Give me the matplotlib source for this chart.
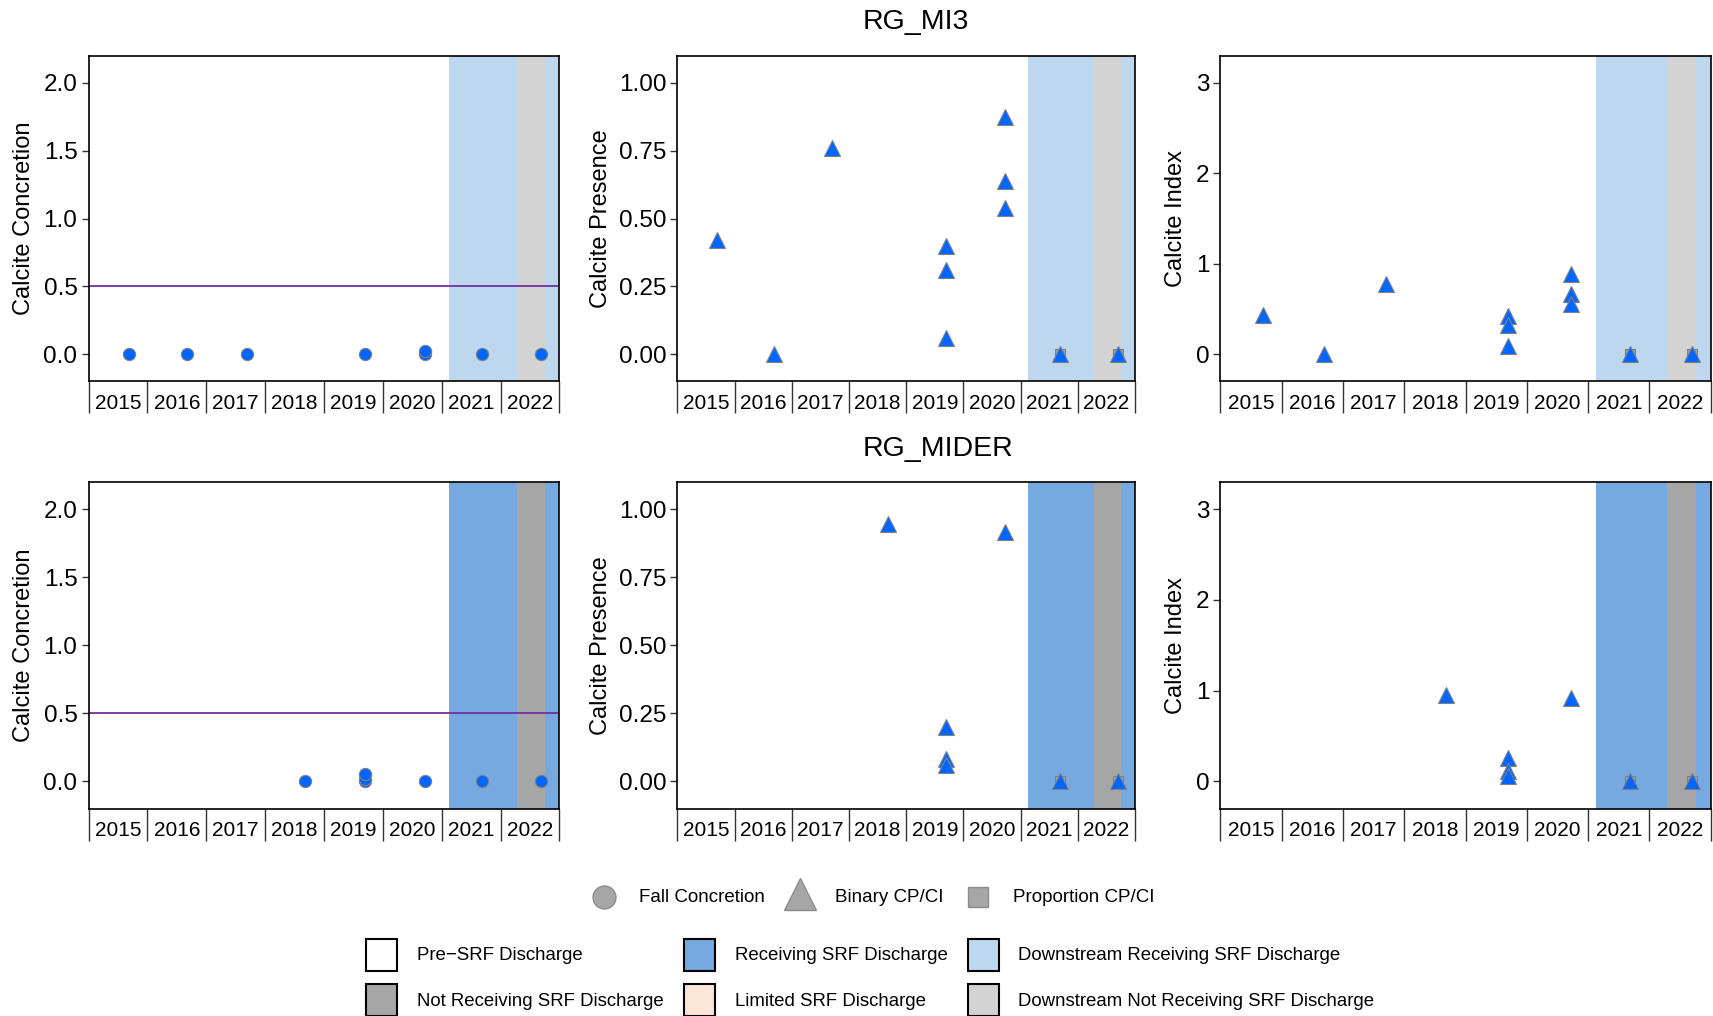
import matplotlib
matplotlib.use("Agg")
import matplotlib.pyplot as plt
from matplotlib.patches import Rectangle

plt.rcParams['font.family'] = ['Liberation Sans', 'DejaVu Sans']

W, H = 1713, 1016

# ---- data (decimal years) ----
sites = ["RG_MI3", "RG_MIDER"]
year_edges = list(range(2015, 2024))
year_labels = [str(y) for y in range(2015, 2023)]

# discharge periods
ds_start = 2021.13
ds_gap = (2022.28, 2022.76)
x_end = 2023.0

# RG_MI3
mi3_fc_x = [2015.69, 2016.68, 2017.70, 2019.69, 2020.71, 2020.71, 2021.69, 2022.69]
mi3_fc_y = [0.0, 0.0, 0.0, 0.0, 0.0, 0.02, 0.0, 0.0]
mi3_cp_x = [2015.70, 2016.69, 2017.70, 2019.69, 2019.69, 2019.69,
            2020.72, 2020.72, 2020.72, 2021.69, 2022.70]
mi3_cp_y = [0.42, 0.0, 0.76, 0.40, 0.31, 0.06, 0.875, 0.64, 0.54, 0.0, 0.0]
mi3_ci_y = [0.43, 0.0, 0.78, 0.42, 0.32, 0.085, 0.89, 0.67, 0.55, 0.0, 0.0]
mi3_prop_x = [2021.69, 2022.70]
mi3_prop_y = [0.0, 0.0]

# RG_MIDER
mider_fc_x = [2018.68, 2019.69, 2019.69, 2019.69, 2020.71, 2021.69, 2022.69]
mider_fc_y = [0.0, 0.0, 0.02, 0.05, 0.0, 0.0, 0.0]
mider_cp_x = [2018.68, 2019.70, 2019.70, 2019.70, 2020.72, 2021.69, 2022.70]
mider_cp_y = [0.945, 0.198, 0.08, 0.058, 0.914, 0.0, 0.0]
mider_ci_y = [0.95, 0.258, 0.11, 0.063, 0.92, 0.0, 0.0]
mider_prop_x = [2021.69, 2022.70]
mider_prop_y = [0.0, 0.0]

fc_data = [(mi3_fc_x, mi3_fc_y), (mider_fc_x, mider_fc_y)]
cp_data = [(mi3_cp_x, mi3_cp_y), (mider_cp_x, mider_cp_y)]
ci_data = [(mi3_cp_x, mi3_ci_y), (mider_cp_x, mider_ci_y)]
prop_data = [(mi3_prop_x, mi3_prop_y), (mider_prop_x, mider_prop_y)]

# band colours per site (downstream vs receiving)
band_cols = [("#BDD7EE", "#D3D3D3"), ("#77A9E1", "#A6A6A6")]

ylabels = ["Calcite Concretion", "Calcite Presence", "Calcite Index"]
ylims = [(-0.2, 2.2), (-0.1, 1.1), (-0.3, 3.3)]
yticks = [[0, 0.5, 1.0, 1.5, 2.0], [0, 0.25, 0.5, 0.75, 1.0], [0, 1, 2, 3]]
yfmt = ["%.1f", "%.2f", "%d"]

box_labels = ["Pre\u2212SRF Discharge", "Receiving SRF Discharge",
              "Downstream Receiving SRF Discharge",
              "Not Receiving SRF Discharge", "Limited SRF Discharge",
              "Downstream Not Receiving SRF Discharge"]
box_colors = ["white", "#77A9E1", "#BDD7EE", "#A6A6A6", "#FBE5D6", "#D3D3D3"]
mk_labels = ["Fall Concretion", "Binary CP/CI", "Proportion CP/CI"]
mk_shapes = ["o", "^", "s"]

# ---- layout in pixels ----
cols = [(88.5, 559.4), (677.3, 1135.1), (1220.3, 1710.8)]
rows = [(55.7, 381.3), (481.8, 808.5)]
ylab_x = [24, 601, 1176]
title_y = [22, 449]

blue = "#0066FF"
edge = "#808080"

fig = plt.figure(figsize=(W / 100, H / 100), dpi=100)

for r, (top, bot) in enumerate(rows):
    fig.text(863 / W, 1 - title_y[r] / H, sites[r], ha="left", va="center", fontsize=20.5)
    for c, (lft, rgt) in enumerate(cols):
        ax = fig.add_axes([lft / W, 1 - bot / H, (rgt - lft) / W, (bot - top) / H])
        ax.axvspan(ds_start, x_end, color=band_cols[r][0], lw=0, zorder=0)
        ax.axvspan(ds_gap[0], ds_gap[1], color=band_cols[r][1], lw=0, zorder=0)

        if c == 0:
            ax.axhline(0.5, color="#7030A0", lw=1.3, zorder=1)
            x, y = fc_data[r]
            ax.plot(x, y, "o", ms=8.8, mfc=blue, mec=edge, mew=0.8, zorder=3)
        else:
            px, py = prop_data[r]
            ax.plot(px, py, "s", ms=7.5, mfc="#A0A0A0", mec=edge, mew=0.8, zorder=2)
            x, y = cp_data[r] if c == 1 else ci_data[r]
            ax.plot(x, y, "^", ms=11, mfc=blue, mec=edge, mew=0.8, zorder=3)

        ax.set_xlim(year_edges[0], x_end)
        ax.set_ylim(*ylims[c])
        ax.set_yticks(yticks[c])
        ax.set_yticklabels([yfmt[c] % v for v in yticks[c]], fontsize=17.5)
        ax.tick_params(axis="y", length=5, width=1, color="#333333", pad=3)

        ax.set_xticks(year_edges)
        ax.set_xticklabels([])
        ax.set_xticks([y + 0.5 for y in range(2015, 2023)], minor=True)
        ax.set_xticklabels(year_labels, minor=True, fontsize=15)
        ax.tick_params(axis="x", which="major", length=23, width=1, color="#333333")
        ax.tick_params(axis="x", which="minor", length=0, pad=9)

        for s in ax.spines.values():
            s.set_linewidth(1.2)
        ax.set_ylabel(ylabels[c], fontsize=17, va="center")
        ax.yaxis.set_label_coords((ylab_x[c] - lft) / (rgt - lft), 0.5)

# ---- legends ----
lax = fig.add_axes([0, 0, 1, 1])
lax.set_xlim(0, W)
lax.set_ylim(H, 0)
lax.axis("off")

mk_x = [604, 800, 978]
mk_tx = [639, 835, 1013]
mk_ms = [16.5, 23, 14]
mk_dy = [0, -3, 0]
for i in range(3):
    lax.plot(mk_x[i], 897 + mk_dy[i], mk_shapes[i], ms=mk_ms[i], mfc="#A6A6A6",
             mec="#8C8C8C", mew=1)
    lax.text(mk_tx[i], 897, mk_labels[i], ha="left", va="center", fontsize=13.5)

bx = [366, 684, 968]
btx = [417, 735, 1018]
by = [938.5, 984]
bty = [955, 1001]
for i, (lab, col) in enumerate(zip(box_labels, box_colors)):
    rr, cc = divmod(i, 3)
    lax.add_patch(Rectangle((bx[cc], by[rr]), 31, 32, facecolor=col,
                            edgecolor="black", lw=1.5, clip_on=False))
    lax.text(btx[cc], bty[rr], lab, ha="left", va="center", fontsize=13.4)

fig.savefig("out.png", dpi=100)
